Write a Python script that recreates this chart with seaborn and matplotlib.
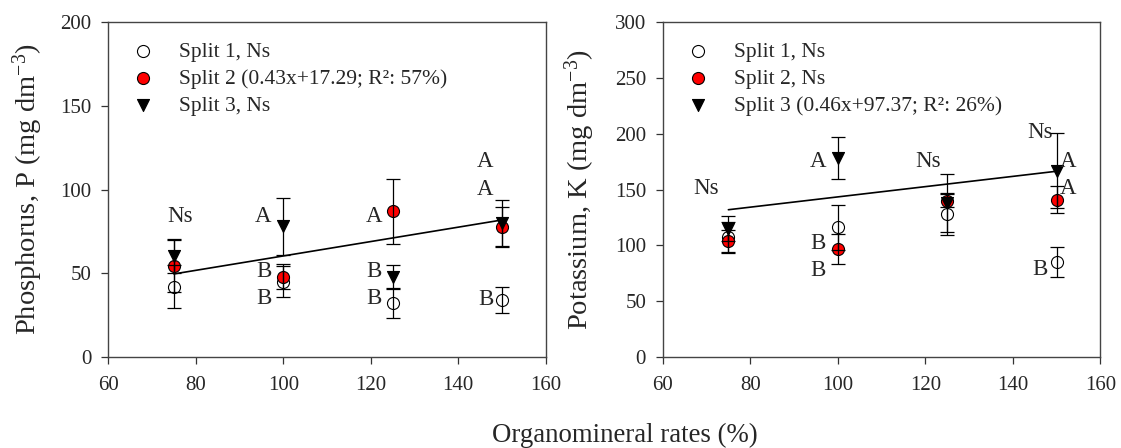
import numpy as np
import pandas as pd
import seaborn as sns
import matplotlib.pyplot as plt

# Doses (%)
rates = [75, 100, 125, 150]

# Phosphorus (mg dm-3) - means and error
p_split1 = [42, 45, 32, 34]
p_split1_err = [13, 9, 8.5, 8]
p_split2 = [54.5, 48, 87, 77.5]
p_split2_err = [16, 7.5, 19.5, 12]
p_split3 = [60, 78, 48, 80]
p_split3_err = [10, 17, 7, 14]

# Potassium (mg dm-3) - means and error
k_split1 = [107, 116, 128, 85]
k_split1_err = [14, 20, 19, 13.5]
k_split2 = [104, 97, 140, 141]
k_split2_err = [10, 13.5, 6, 12.5]
k_split3 = [115, 178, 138, 167]
k_split3_err = [11, 19, 26, 34]

# regression lines (slope, intercept)
p_fit = (0.43, 17.29)
k_fit = (0.46, 97.37)

p_labels = ["Split 1, Ns", "Split 2 (0.43x+17.29; R²: 57%)", "Split 3, Ns"]
k_labels = ["Split 1, Ns", "Split 2, Ns", "Split 3 (0.46x+97.37; R²: 26%)"]

# letters of mean comparison: (x, y, text, ha)
p_letters = [(76.5, 84, "Ns", "center"),
             (97.3, 84, "A", "right"), (97.3, 51, "B", "right"), (97.3, 35, "B", "right"),
             (122.6, 84, "A", "right"), (122.6, 51, "B", "right"), (122.6, 35, "B", "right"),
             (148, 116.5, "A", "right"), (148, 100, "A", "right"), (148, 34.5, "B", "right")]
k_letters = [(69.8, 151, "Ns", "center"),
             (97.3, 175.5, "A", "right"), (97.3, 101.5, "B", "right"), (97.3, 77.5, "B", "right"),
             (120.7, 175.5, "Ns", "center"),
             (149.1, 201, "Ns", "right"),
             (150.7, 175.5, "A", "left"), (150.7, 150.5, "A", "left"),
             (147.9, 78, "B", "right")]

sns.set_style("white")
plt.rcParams["font.family"] = ["Liberation Serif", "DejaVu Serif"]
plt.rcParams["mathtext.fontset"] = "custom"
plt.rcParams["mathtext.rm"] = "Liberation Serif"
plt.rcParams["mathtext.it"] = "Liberation Serif:italic"

styles = [dict(marker="o", color="white"),
          dict(marker="o", color="red"),
          dict(marker="v", color="black")]

fig = plt.figure(figsize=(11.21, 4.48), dpi=100)
ax1 = fig.add_axes([0.0966, 0.2035, 0.3902, 0.747])
ax2 = fig.add_axes([0.5912, 0.2035, 0.3904, 0.747])


def draw_panel(ax, means, errs, labels, fit, letters, ylim, ylabel, lpad):
    for m, e, lab, st in zip(means, errs, labels, styles):
        df = pd.DataFrame({"rate": rates, "value": m})
        sns.scatterplot(data=df, x="rate", y="value", ax=ax, marker=st["marker"],
                        color=st["color"], edgecolor="black", linewidth=0.8,
                        s=75, label=lab, zorder=3)
        ax.errorbar(rates, m, yerr=e, fmt="none", ecolor="black", elinewidth=0.9,
                    capsize=5, capthick=0.9, zorder=4)
    xs = np.array([rates[0], rates[-1]])
    ax.plot(xs, fit[0] * xs + fit[1], color="black", lw=1.2, zorder=2)
    for x, y, t, ha in letters:
        ax.text(x, y, t, ha=ha, va="center", fontsize=16.5)
    ax.set_xlim(60, 160)
    ax.set_ylim(*ylim)
    ax.set_xticks(range(60, 161, 20))
    ax.set_yticks(range(ylim[0], ylim[1] + 1, 50))
    ax.tick_params(direction="out", length=5, width=0.9, labelsize=15,
                   bottom=True, left=True, color="#333333")
    ax.tick_params(axis="x", pad=9)
    ax.tick_params(axis="y", pad=7)
    for sp in ax.spines.values():
        sp.set_color("#444444")
        sp.set_linewidth(1.0)
    ax.set_xlabel("")
    ax.set_ylabel(ylabel, fontsize=20.5, labelpad=lpad)
    leg = ax.legend(loc="upper left", frameon=False, fontsize=15.5,
                    handletextpad=0.67, labelspacing=0.32, borderaxespad=0.0,
                    bbox_to_anchor=(0.011, 0.967))
    return leg


draw_panel(ax1, [p_split1, p_split2, p_split3], [p_split1_err, p_split2_err, p_split3_err],
           p_labels, p_fit, p_letters, (0, 200), "Phosphorus, P (mg dm$^{-3}$)", 11)
draw_panel(ax2, [k_split1, k_split2, k_split3], [k_split1_err, k_split2_err, k_split3_err],
           k_labels, k_fit, k_letters, (0, 300), "Potassium, K (mg dm$^{-3}$)", 13)

fig.text(0.557, 0.028, "Organomineral rates (%)", ha="center", va="center", fontsize=19.3)

fig.savefig("out.png", dpi=100)
